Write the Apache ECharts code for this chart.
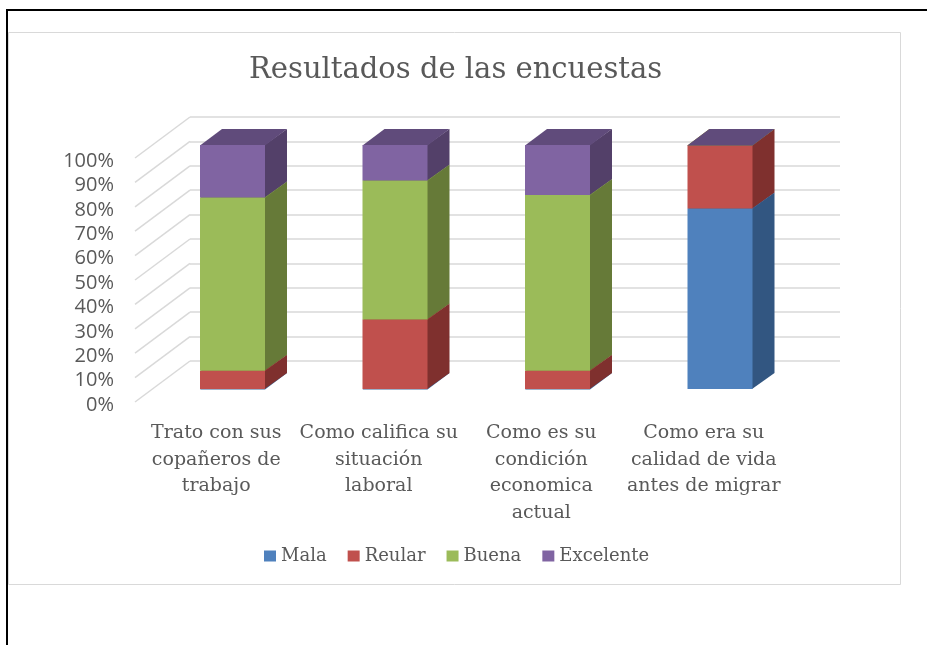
<!DOCTYPE html>
<html>
<head>
<meta charset="utf-8">
<title>Resultados de las encuestas</title>
<script src="https://cdn.jsdelivr.net/npm/echarts@6.0.0/dist/echarts.min.js"></script>
<style>
  html, body { margin: 0; padding: 0; background: #fff; }
  #chart { width: 927px; height: 645px; }
</style>
</head>
<body>
<div id="chart"></div>
<script>
const categories = [
  'Trato con sus\ncopañeros de\ntrabajo',
  'Como califica su\nsituación\nlaboral',
  'Como es su\ncondición\neconomica\nactual',
  'Como era su\ncalidad de vida\nantes de migrar'
];
const mala = [0, 0, 0, 74];
const reular = [7.5, 28.5, 7.5, 26];
const buena = [71, 57, 72, 0];
const excelente = [21.5, 14.5, 20.5, 0];
const yTicks = [0, 10, 20, 30, 40, 50, 60, 70, 80, 90, 100];

const seriesDefs = [
  { name: 'Mala', values: mala, front: '#4f81bd', side: '#325681', top: '#3d6698' },
  { name: 'Reular', values: reular, front: '#c0504d', side: '#7f302e', top: '#9a3b39' },
  { name: 'Buena', values: buena, front: '#9bbb59', side: '#667a38', top: '#7a9443' },
  { name: 'Excelente', values: excelente, front: '#8064a2', side: '#534069', top: '#604b7b' }
];

// profundidad del efecto 3D
const DEPTH_X = 22;
const DEPTH_Y = 16;
const gridColor = '#d9d9d9';
const textColor = '#595959';

const chart = echarts.init(document.getElementById('chart'));

// acumulados para apilar
const bases = categories.map(() => 0);
const barSeries = seriesDefs.map((def, si) => {
  const data = def.values.map((v, i) => {
    const item = [i, bases[i], v];
    bases[i] += v;
    return item;
  });
  return {
    name: def.name,
    type: 'custom',
    xAxisIndex: 0,
    yAxisIndex: 0,
    z: 10 + si,
    itemStyle: { color: def.front },
    encode: { x: 0, y: [1, 2] },
    data: data,
    renderItem: function (params, api) {
      const c = api.value(0);
      const base = api.value(1);
      const val = api.value(2);
      const p0 = api.coord([c, base]);
      const p1 = api.coord([c, base + val]);
      const w = api.size([1, 0])[0] * 0.4;
      const x0 = p0[0] - w / 2;
      const x1 = p0[0] + w / 2;
      const yb = p0[1];
      const yt = p1[1];
      return {
        type: 'group',
        children: [
          {
            type: 'polygon',
            shape: { points: [[x1 - 0.5, yb], [x1 + DEPTH_X, yb - DEPTH_Y], [x1 + DEPTH_X, yt - DEPTH_Y], [x1 - 0.5, yt]] },
            style: { fill: def.side }
          },
          {
            type: 'polygon',
            shape: { points: [[x0, yt + 0.5], [x1, yt + 0.5], [x1 + DEPTH_X, yt - DEPTH_Y], [x0 + DEPTH_X, yt - DEPTH_Y]] },
            style: { fill: def.top }
          },
          {
            type: 'rect',
            shape: { x: x0, y: yt, width: w, height: yb - yt },
            style: { fill: def.front }
          }
        ]
      };
    }
  };
});

// lineas diagonales del piso lateral
const diagonalSeries = {
  type: 'custom',
  xAxisIndex: 2,
  yAxisIndex: 2,
  silent: true,
  z: 1,
  encode: { x: 0, y: 1 },
  data: yTicks.map(t => [0, t]),
  renderItem: function (params, api) {
    const p = api.coord([0, api.value(1)]);
    const x = params.coordSys.x;
    return {
      type: 'line',
      shape: { x1: x - 55, y1: p[1] + 41, x2: x, y2: p[1] },
      style: { stroke: gridColor, lineWidth: 1.5 }
    };
  }
};

const option = {
  backgroundColor: '#fff',
  animation: false,
  title: {
    text: 'Resultados de las encuestas',
    left: 244,
    top: 51,
    textStyle: {
      fontFamily: 'DejaVu Serif',
      fontSize: 29,
      fontWeight: 'normal',
      color: textColor
    }
  },
  legend: {
    data: seriesDefs.map(d => d.name),
    left: 259,
    top: 542,
    icon: 'rect',
    itemWidth: 12,
    itemHeight: 11,
    itemGap: 21,
    textStyle: {
      fontFamily: 'DejaVu Serif',
      fontSize: 18,
      color: textColor
    }
  },
  graphic: [
    {
      type: 'rect',
      shape: { x: 8.5, y: 32.5, width: 892, height: 552 },
      style: { fill: 'none', stroke: '#d9d9d9', lineWidth: 1 },
      z: 0
    },
    {
      type: 'polyline',
      shape: { points: [[7, 645], [7, 10], [927, 10]] },
      style: { fill: 'none', stroke: '#000', lineWidth: 2 },
      z: 0
    }
  ],
  grid: [
    { left: 151.25, top: 145, width: 650, height: 244 },
    { left: 135, top: 161, width: 650, height: 244 },
    { left: 190, top: 117, width: 650, height: 244 }
  ],
  xAxis: [
    { gridIndex: 0, type: 'category', data: categories, show: false },
    {
      gridIndex: 1,
      type: 'category',
      data: categories,
      axisLine: { show: false },
      axisTick: { show: false },
      axisLabel: {
        interval: 0,
        margin: 15,
        fontFamily: 'DejaVu Serif',
        fontSize: 19,
        lineHeight: 26.5,
        color: textColor
      }
    },
    { gridIndex: 2, type: 'category', data: categories, show: false }
  ],
  yAxis: [
    { gridIndex: 0, type: 'value', min: 0, max: 100, show: false },
    {
      gridIndex: 1,
      type: 'value',
      min: 0,
      max: 100,
      interval: 10,
      axisLine: { show: false },
      axisTick: { show: false },
      splitLine: { show: false },
      axisLabel: {
        formatter: '{value}%',
        margin: 21,
        fontFamily: 'Open Sans',
        fontSize: 20,
        color: textColor
      }
    },
    {
      gridIndex: 2,
      type: 'value',
      min: 0,
      max: 100,
      interval: 10,
      axisLine: { show: false },
      axisTick: { show: false },
      axisLabel: { show: false },
      splitLine: { lineStyle: { color: gridColor, width: 1.5 } }
    }
  ],
  series: [diagonalSeries].concat(barSeries)
};

chart.setOption(option);
</script>
</body>
</html>
